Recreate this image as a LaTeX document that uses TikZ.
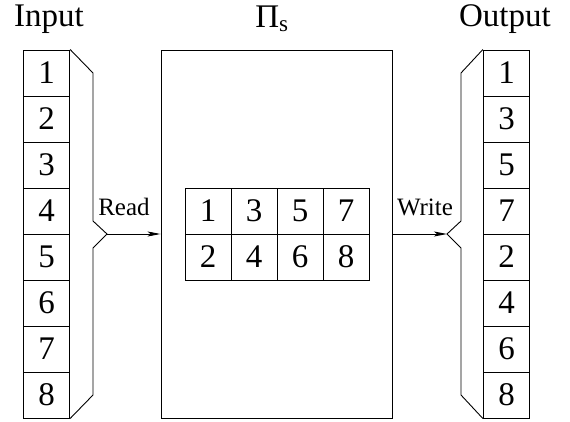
\documentclass[tikz,border=0pt]{standalone}
\usepackage{fontspec}
\setmainfont{Liberation Serif}
\usetikzlibrary{arrows.meta}
\begin{document}
\begin{tikzpicture}[x=1pt,y=-1pt,
  cell/.style={draw,line width=0.9pt,minimum width=46.5pt,minimum height=46pt,inner sep=0pt,font=\fontsize{33}{33}\selectfont},
  icell/.style={draw,line width=0.9pt,minimum width=46pt,minimum height=46pt,inner sep=0pt,font=\fontsize{33}{33}\selectfont},
  lbl/.style={inner sep=0pt,anchor=base,font=\fontsize{33}{33}\selectfont},
  small/.style={inner sep=0pt,anchor=base,font=\fontsize{25}{25}\selectfont},
  brace/.style={line width=0.9pt},
  arr/.style={line width=0.9pt,-{Stealth[length=13pt,width=5pt,inset=3pt]}}]
\useasboundingbox (0,0) rectangle (570,422);
% labels
\node[lbl] (tin) at (49,27) {Input};
\node[lbl] (tout) at (505,27) {Output};
\node[lbl] (tpi) at (272,28) {Π\textsubscript{s}};
% input column
\foreach \v [count=\i from 0] in {1,2,3,4,5,6,7,8}
  \node[cell] (in\i) at (46.5,{73+46*\i}) {\v};
% output column
\foreach \v [count=\i from 0] in {1,3,5,7,2,4,6,8}
  \node[cell] (out\i) at (506.5,{73+46*\i}) {\v};
% big box
\node[draw,line width=0.9pt,minimum width=231pt,minimum height=368pt,inner sep=0pt] (box) at (276.5,234) {};
% inner table
\foreach \v [count=\i from 0] in {1,3,5,7}
  \node[icell] (r\i) at ({208+46*\i},211) {\v};
\foreach \v [count=\i from 0] in {2,4,6,8}
  \node[icell] (s\i) at ({208+46*\i},257) {\v};
% braces
\coordinate (rtip) at (107,234);
\coordinate (wtip) at (447,234);
\draw[brace] (in0.north east) -- (93,73) -- (93,221) -- (rtip) -- (93,248) -- (93,395) -- (in7.south east);
\draw[brace] (out0.north west) -- (461,73) -- (461,221) -- (wtip) -- (461,248) -- (461,395) -- (out7.south west);
% arrows
\draw[arr] (rtip) -- (box.west |- rtip);
\draw[arr] (box.east |- wtip) -- (wtip);
\node[small] (rd) at (124,215) {Read};
\node[small] (wr) at (425,215) {Write};
\end{tikzpicture}
\end{document}
